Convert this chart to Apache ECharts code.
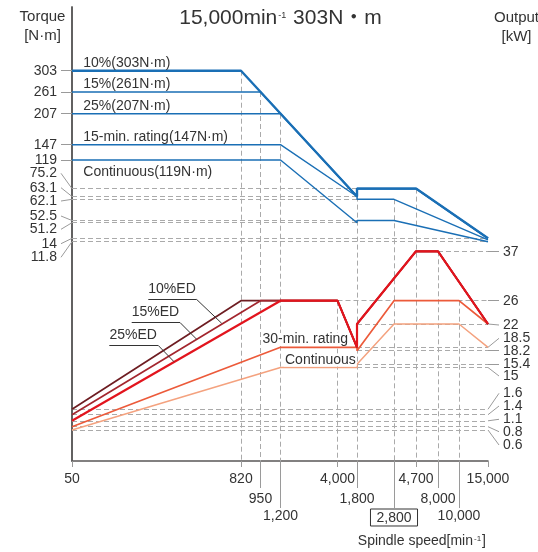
<!DOCTYPE html>
<html>
<head>
<meta charset="utf-8">
<script src="https://cdn.jsdelivr.net/npm/echarts@6/dist/echarts.min.js"></script>
<style>
  html, body { margin: 0; padding: 0; background: #fff; }
  #chart { width: 538px; height: 552px; }
</style>
</head>
<body>
<div id="chart"></div>
<script>
// speed axis is schematic: each label has its own place along the axis
const speedLabels = ['50', '820', '950', '1,200', '4,000', '1,800', '2,800', '4,700', '8,000', '10,000', '15,000'];
const speedPos = [0, 169, 188.5, 208.5, 265.5, 285, 322, 344, 366, 387, 416];
const speedRow = [0, 0, 1, 2, 0, 1, 2, 0, 1, 2, 0];

// torque levels [N·m] (left) and where they sit
const torqueTicks = [303, 261, 207, 147, 119, 75.2, 63.1, 62.1, 52.5, 51.2, 14, 11.8];
const torqueTickPos = [390.3, 369, 347.3, 316.3, 301, 272.4, 264.5, 261.7, 240.5, 238.3, 222.7, 219.3];
const torqueLabelPos = [390.3, 369, 347.3, 316.3, 301, 287.7, 273.3, 260, 245, 231.7, 217.3, 203.7];

// output levels [kW] (right)
const outputTicks = [37, 26, 22, 18.5, 18.2, 15.4, 15, 1.6, 1.4, 1.1, 0.8, 0.6];
const outputTickPos = [209.7, 160.3, 137, 113.7, 110.3, 96.7, 93.5, 51.7, 46.3, 40.2, 34.3, 31];
const outputLabelPos = [209.3, 160.3, 136, 122.7, 110.3, 96.7, 85, 67.7, 55, 41.7, 29.3, 16];

// torque curves: [speed, N·m]
const torque10 = [['50', 303], ['820', 303], ['1,800', 63.1], ['1,800', 75.2], ['4,700', 75.2], ['15,000', 14]];
const torque15 = [['50', 261], ['950', 261], ['1,800', 63.1], ['1,800', 75.2], ['4,700', 75.2], ['15,000', 14]];
const torque25 = [['50', 207], ['1,200', 207], ['1,800', 63.1], ['1,800', 75.2], ['4,700', 75.2], ['15,000', 14]];
const torque15min = [['50', 147], ['1,200', 147], ['1,800', 63.1], ['1,800', 62.1], ['2,800', 62.1], ['15,000', 13]];
const torqueCont = [['50', 119], ['1,200', 119], ['1,800', 51.2], ['1,800', 52.5], ['2,800', 52.5], ['15,000', 11.8]];

// output curves: [speed, kW]
const out10ED = [['50', 1.6], ['820', 26], ['4,000', 26], ['1,800', 18.5], ['1,800', 22], ['4,700', 37], ['8,000', 37], ['15,000', 22]];
const out15ED = [['50', 1.4], ['950', 26], ['4,000', 26], ['1,800', 18.5], ['1,800', 22], ['4,700', 37], ['8,000', 37], ['15,000', 22]];
const out25ED = [['50', 1.1], ['1,200', 26], ['4,000', 26], ['1,800', 18.5], ['1,800', 22], ['4,700', 37], ['8,000', 37], ['15,000', 22]];
const out30min = [['50', 0.8], ['1,200', 18.5], ['1,800', 18.5], ['1,800', 18.2], ['2,800', 26], ['10,000', 26], ['15,000', 22]];
const outCont = [['50', 0.6], ['1,200', 15], ['1,800', 15], ['1,800', 15.4], ['2,800', 22], ['10,000', 22], ['15,000', 18.5]];

// dashed guides: [axis, level, from speed, to speed] and [speed, axis, level]
const hGuides = [
  ['T', 75.2, '50', '1,800'], ['T', 63.1, '50', '1,800'], ['T', 62.1, '50', '1,800'],
  ['T', 52.5, '50', '1,800'], ['T', 51.2, '50', '1,800'], ['T', 14, '50', '15,000'], ['T', 11.8, '50', '15,000'],
  ['P', 37, '8,000', '15,000'], ['P', 26, '4,000', '15,000'], ['P', 22, '1,800', '15,000'],
  ['P', 18.5, '1,800', '15,000'], ['P', 18.2, '1,800', '15,000'], ['P', 15.4, '1,800', '15,000'], ['P', 15, '1,800', '15,000'],
  ['P', 1.6, '50', '15,000'], ['P', 1.4, '50', '15,000'], ['P', 1.1, '50', '15,000'], ['P', 0.8, '50', '15,000'], ['P', 0.6, '50', '15,000']
];
const vGuides = [
  ['820', 'T', 303], ['950', 'T', 261], ['1,200', 'T', 207], ['4,000', 'P', 26], ['1,800', 'T', 75.2],
  ['2,800', 'T', 62.1], ['4,700', 'T', 75.2], ['8,000', 'P', 37], ['10,000', 'P', 26]
];

const FONT = "'Liberation Sans', 'Noto Sans CJK JP', sans-serif";
const TXT = '#333';

function speedX(s) { return speedPos[speedLabels.indexOf(s)]; }
function levelY(v, ticks, pos) {
  for (let i = 0; i < ticks.length - 1; i++) {
    if (v <= ticks[i] && v >= ticks[i + 1]) {
      const t = (ticks[i] - v) / (ticks[i] - ticks[i + 1]);
      return pos[i] + t * (pos[i + 1] - pos[i]);
    }
  }
  return pos[ticks.indexOf(v)];
}
function torqueY(v) { return levelY(v, torqueTicks, torqueTickPos); }
function outputY(v) { return levelY(v, outputTicks, outputTickPos); }
function axisY(a, v) { return a === 'T' ? torqueY(v) : outputY(v); }

function pickLabel(v, posArr, textArr) {
  const i = posArr.findIndex(p => Math.abs(p - v) < 0.05);
  return i < 0 ? '' : String(textArr[i]);
}

function rowAxis(row, tickLen, margin, showLine) {
  const vals = speedPos.filter((p, i) => speedRow[i] === row);
  return {
    type: 'value', min: 0, max: 416, position: 'bottom', offset: 0,
    axisLine: { show: showLine, lineStyle: { color: '#595757', width: 1.5 } },
    axisTick: { show: true, customValues: vals, length: tickLen, lineStyle: { color: '#9a9a9a', width: 1 } },
    axisLabel: {
      customValues: vals, margin: margin, color: TXT, fontSize: 14, fontFamily: FONT,
      showMinLabel: true, showMaxLabel: true, hideOverlap: false,
      formatter: v => {
        const s = pickLabel(v, speedPos, speedLabels);
        return s === '2,800' ? '{box|' + s + '}' : s;
      },
      rich: { box: { borderColor: '#333', borderWidth: 1, padding: [2, 6, 1, 6], fontSize: 14, fontFamily: FONT, color: TXT } }
    },
    splitLine: { show: false }
  };
}

// labels on each side are spread over two stacked axes (odd / even) so none get hidden
function sideAxis(side, labelPos, ticks, parity) {
  const vals = labelPos.filter((p, i) => i % 2 === parity);
  return {
    type: 'value', min: 0, max: 454, position: side, offset: 0,
    axisLine: { show: parity === 0, lineStyle: { color: '#595757', width: 1.5 } },
    axisTick: { show: false }, splitLine: { show: false },
    axisLabel: {
      customValues: vals, margin: 15, color: TXT, fontSize: 14, fontFamily: FONT,
      showMinLabel: true, showMaxLabel: true, hideOverlap: false,
      formatter: v => pickLabel(v, labelPos, ticks)
    }
  };
}

function curve(pts, conv, color, width) {
  return {
    type: 'line', xAxisIndex: 0, yAxisIndex: 0, symbol: 'none', silent: true, clip: false,
    data: pts.map(p => [speedX(p[0]), conv(p[1])]),
    lineStyle: { color: color, width: width }
  };
}

const guideLines = hGuides.map(g => ({ coords: [[speedX(g[2]), axisY(g[0], g[1])], [speedX(g[3]), axisY(g[0], g[1])]] }))
  .concat(vGuides.map(g => ({ coords: [[speedX(g[0]), axisY(g[1], g[2])], [speedX(g[0]), 0]] })));

const leaderLines = torqueTicks.map((t, i) => ({ coords: [[-11, torqueLabelPos[i]], [0, torqueTickPos[i]]] }))
  .concat(outputTicks.map((t, i) => ({ coords: [[416, outputTickPos[i]], [427, outputLabelPos[i]]] })));

const BLUE = '#1a6fb5';

const option = {
  animation: false,
  grid: { left: 72, right: 50, top: 7, bottom: 91 },
  xAxis: [rowAxis(0, 6, 11, true), rowAxis(1, 27, 31, false), rowAxis(2, 47, 48, false)],
  yAxis: [
    sideAxis('left', torqueLabelPos, torqueTicks, 0), sideAxis('left', torqueLabelPos, torqueTicks, 1),
    sideAxis('right', outputLabelPos, outputTicks, 0), sideAxis('right', outputLabelPos, outputTicks, 1)
  ],
  series: [
    {
      type: 'lines', coordinateSystem: 'cartesian2d', xAxisIndex: 0, yAxisIndex: 0, silent: true,
      data: guideLines, lineStyle: { color: '#aaaaaa', width: 1, type: [5, 3], opacity: 1, curveness: 0 }
    },
    {
      type: 'lines', coordinateSystem: 'cartesian2d', xAxisIndex: 0, yAxisIndex: 0, silent: true, clip: false,
      data: leaderLines, lineStyle: { color: '#9a9a9a', width: 1, opacity: 1, curveness: 0 }
    },
    curve(torqueCont, torqueY, BLUE, 1.4),
    curve(torque15min, torqueY, BLUE, 1.4),
    curve(torque25, torqueY, BLUE, 1.6),
    curve(torque15, torqueY, BLUE, 1.6),
    curve(torque10, torqueY, BLUE, 2.4),
    curve(outCont, outputY, '#f4a27f', 1.5),
    curve(out30min, outputY, '#ec5a3a', 1.7),
    curve(out10ED, outputY, '#6e1d22', 1.7),
    curve(out15ED, outputY, '#a3262e', 1.7),
    curve(out25ED, outputY, '#e2141d', 2.2)
  ],
  graphic: [
    {
      type: 'text', x: 280.5, y: 18.5, z: 10,
      style: {
        text: '{a|15,000min}{s|-1}{a| 303N・m}', align: 'center', verticalAlign: 'middle',
        rich: {
          a: { fontSize: 21, fontFamily: FONT, fill: TXT, color: TXT, verticalAlign: 'bottom' },
          s: { fontSize: 9, fontFamily: FONT, fill: TXT, color: TXT, verticalAlign: 'bottom', padding: [0, 1, 9, 1] }
        }
      }
    },
    {
      type: 'text', x: 42.5, y: 26, z: 10,
      style: { text: 'Torque\n[N·m]', align: 'center', verticalAlign: 'middle', lineHeight: 19, fontSize: 15, fontFamily: FONT, fill: TXT }
    },
    {
      type: 'text', x: 516.5, y: 27.5, z: 10,
      style: { text: 'Output\n[kW]', align: 'center', verticalAlign: 'middle', lineHeight: 19, fontSize: 15, fontFamily: FONT, fill: TXT }
    },
    {
      type: 'text', x: 486, y: 541.5, z: 10,
      style: {
        text: '{a|Spindle speed[min}{s|-1}{a|]}', align: 'right', verticalAlign: 'middle',
        rich: {
          a: { fontSize: 14, fontFamily: FONT, fill: TXT, color: TXT, verticalAlign: 'bottom' },
          s: { fontSize: 8, fontFamily: FONT, fill: TXT, color: TXT, verticalAlign: 'bottom', padding: [0, 1, 6, 1] }
        }
      }
    },
    { type: 'text', x: 83.3, y: 63.3, z: 10, style: { text: '10%(303N·m)', verticalAlign: 'middle', fontSize: 14, fontFamily: FONT, fill: TXT } },
    { type: 'text', x: 83.3, y: 84.5, z: 10, style: { text: '15%(261N·m)', verticalAlign: 'middle', fontSize: 14, fontFamily: FONT, fill: TXT } },
    { type: 'text', x: 83.3, y: 106, z: 10, style: { text: '25%(207N·m)', verticalAlign: 'middle', fontSize: 14, fontFamily: FONT, fill: TXT } },
    { type: 'text', x: 83.3, y: 136.7, z: 10, style: { text: '15-min. rating(147N·m)', verticalAlign: 'middle', fontSize: 14, fontFamily: FONT, fill: TXT } },
    { type: 'text', x: 83.3, y: 171.7, z: 10, style: { text: 'Continuous(119N·m)', verticalAlign: 'middle', fontSize: 14, fontFamily: FONT, fill: TXT } },
    { type: 'text', x: 148.3, y: 289.5, z: 10, style: { text: '10%ED', verticalAlign: 'middle', fontSize: 14, fontFamily: FONT, fill: TXT } },
    { type: 'text', x: 131.7, y: 312.5, z: 10, style: { text: '15%ED', verticalAlign: 'middle', fontSize: 14, fontFamily: FONT, fill: TXT } },
    { type: 'text', x: 109.5, y: 335, z: 10, style: { text: '25%ED', verticalAlign: 'middle', fontSize: 14, fontFamily: FONT, fill: TXT } },
    { type: 'polyline', z: 10, shape: { points: [[148.3, 299.5], [196.7, 299.5], [221.7, 323.3]] }, style: { stroke: '#333', lineWidth: 1, fill: null } },
    { type: 'polyline', z: 10, shape: { points: [[131.7, 322.5], [180, 322.5], [196.7, 339.3]] }, style: { stroke: '#333', lineWidth: 1, fill: null } },
    { type: 'polyline', z: 10, shape: { points: [[109.3, 345.5], [158.3, 345.5], [174, 361.7]] }, style: { stroke: '#333', lineWidth: 1, fill: null } },
    {
      type: 'text', x: 261.5, y: 339.5, z: 10,
      style: { text: '30-min. rating', verticalAlign: 'middle', fontSize: 14, lineHeight: 13, fontFamily: FONT, fill: TXT, backgroundColor: '#fff', padding: [0, 1] }
    },
    {
      type: 'text', x: 284, y: 360, z: 10,
      style: { text: 'Continuous', verticalAlign: 'middle', fontSize: 14, lineHeight: 13, fontFamily: FONT, fill: TXT, backgroundColor: '#fff', padding: [0, 1] }
    }
  ]
};

const chart = echarts.init(document.getElementById('chart'));
chart.setOption(option);
</script>
</body>
</html>
